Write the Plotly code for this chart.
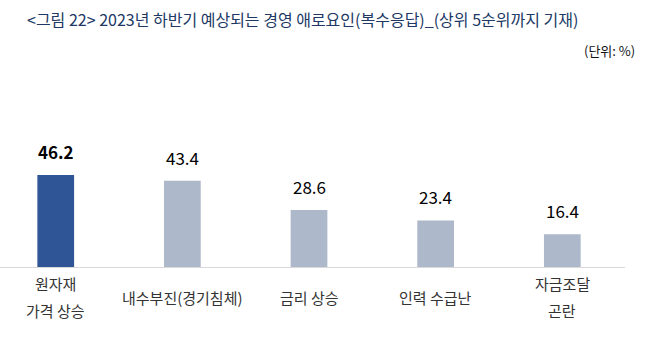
import plotly.graph_objects as go

categories = ["원자재 가격 상승", "내수부진(경기침체)", "금리 상승", "인력 수급난", "자금조달 곤란"]
label_lines = [["원자재", "가격 상승"], ["내수부진(경기침체)"], ["금리 상승"], ["인력 수급난"], ["자금조달", "곤란"]]
values = [46.2, 43.4, 28.6, 23.4, 16.4]
value_labels = ["46.2", "43.4", "28.6", "23.4", "16.4"]

FONT = "Noto Sans CJK KR"
bar_colors = ["#2f5597"] + ["#adb9ca"] * 4

x_idx = list(range(len(categories)))

fig = go.Figure()
fig.add_trace(go.Bar(x=x_idx, y=values, width=0.29, marker=dict(color=bar_colors, line=dict(width=0)),
                     hoverinfo="skip", showlegend=False))

annotations = []
for i, (v, lab) in enumerate(zip(values, value_labels)):
    annotations.append(dict(x=i, y=v, xref="x", yref="y", text=(f"<b>{lab}</b>" if i == 0 else lab),
                            showarrow=False, yanchor="bottom", yshift=9,
                            font=dict(family=FONT, size=17, color="#000000")))
for i, lines in enumerate(label_lines):
    if len(lines) == 1:
        shifts = [-30]
    else:
        shifts = [-16, -43]
    for line, s in zip(lines, shifts):
        annotations.append(dict(x=i, y=0, xref="x", yref="paper", text=line, showarrow=False,
                                yanchor="middle", yshift=s,
                                font=dict(family=FONT, size=15, color="#333333")))

annotations.append(dict(xref="paper", yref="paper", x=637/625, y=1.16, xanchor="right", yanchor="middle",
                        text="(단위: %)", showarrow=False,
                        font=dict(family=FONT, size=13, color="#111111")))

fig.update_layout(
    width=648, height=348,
    margin=dict(l=0, r=23, t=80, b=81),
    paper_bgcolor="white", plot_bgcolor="white",
    title=dict(text="&lt;그림 22&gt; 2023년 하반기 예상되는 경영 애로요인(복수응답)_(상위 5순위까지 기재)",
               x=27/648, xanchor="left", y=1-20/348, yanchor="middle",
               font=dict(family=FONT, size=16, color="#203864")),
    xaxis=dict(range=[-0.44, 4.495], showticklabels=False, showgrid=False, zeroline=False,
               showline=True, linecolor="#d9d9d9", linewidth=1, ticks=""),
    yaxis=dict(range=[0, 94], visible=False, showgrid=False, zeroline=False),
    annotations=annotations,
)

fig.write_html("out.html")
